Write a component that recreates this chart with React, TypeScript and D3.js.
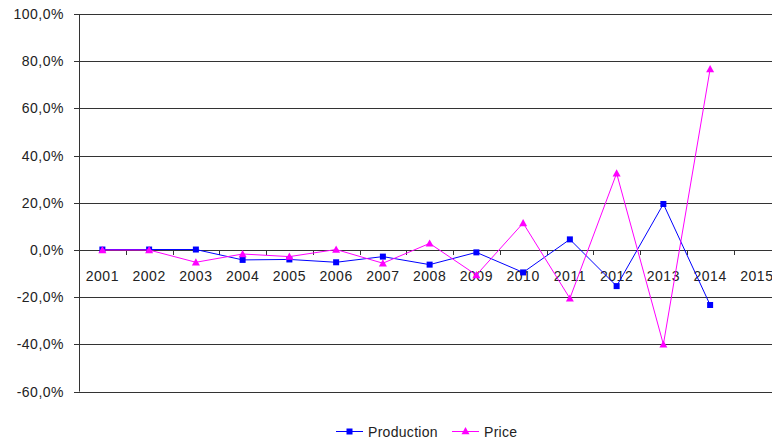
import React from "react";
import * as d3 from "d3";

const years = ["2001","2002","2003","2004","2005","2006","2007","2008","2009","2010","2011","2012","2013","2014","2015"];
const production = [0.2, 0.2, 0.2, -4.2, -4.0, -5.2, -2.8, -6.2, -1.0, -9.5, 4.5, -15.3, 19.5, -23.3];
const price = [0.0, 0.0, -5.2, -1.7, -2.8, 0.2, -5.6, 2.8, -10.6, 11.4, -20.5, 32.5, -40.0, 76.7];
const yTicks = [100, 80, 60, 40, 20, 0, -20, -40, -60];

const W = 772, H = 443;
const left = 79, top = 14, bottom = 391.6;
const step = 46.75;

export default function App() {
  const x = d3.scaleBand<string>().domain(years).range([left, left + step * years.length]).padding(0);
  const y = d3.scaleLinear().domain([-60, 100]).range([bottom, top]);
  const cx = (i: number) => (x(years[i]) as number) + x.bandwidth() / 2;
  const line = d3.line<number>().x((_, i) => cx(i)).y((d) => y(d));
  const fmt = (v: number) => v.toFixed(1).replace(".", ",") + "%";
  const font = "'Liberation Sans', Arial, sans-serif";
  const tri = (px: number, py: number, s = 4) => `M${px},${py - s}L${px + s},${py + s * 0.8}L${px - s},${py + s * 0.8}Z`;
  const xEnd = left + step * years.length;
  return (
    <svg width={W} height={H} style={{ position: "absolute", left: 0, top: 0, background: "#fff" }}>
      {yTicks.map((t) => (
        <g key={t}>
          <line x1={left - 5} x2={xEnd} y1={Math.round(y(t)) + 0.5} y2={Math.round(y(t)) + 0.5} stroke="#333" strokeWidth={1} />
          <text x={64} y={y(t) + 5} textAnchor="end" fontFamily={font} fontSize={14} letterSpacing={0.5} fill="#222">{fmt(t)}</text>
        </g>
      ))}
      <line x1={left + 0.5} x2={left + 0.5} y1={top} y2={bottom} stroke="#333" />
      {years.map((yr, i) => (
        <g key={yr}>
          <line x1={Math.round((x(yr) as number) + step) + 0.5} x2={Math.round((x(yr) as number) + step) + 0.5} y1={y(0)} y2={y(0) + 5} stroke="#333" />
          <text x={cx(i)} y={281} textAnchor="middle" fontFamily={font} fontSize={14} letterSpacing={0.5} fill="#222">{yr}</text>
        </g>
      ))}
      <path d={line(production) || ""} fill="none" stroke="#0000FF" strokeWidth={1} />
      {production.map((v, i) => (
        <rect key={"p" + i} x={cx(i) - 3} y={y(v) - 3} width={6} height={6} fill="#0000FF" />
      ))}
      <path d={line(price) || ""} fill="none" stroke="#FF00FF" strokeWidth={1} />
      {price.map((v, i) => (
        <path key={"q" + i} d={tri(cx(i), y(v))} fill="#FF00FF" />
      ))}
      <g>
        <line x1={336} x2={363} y1={431.5} y2={431.5} stroke="#0000FF" />
        <rect x={346.5} y={428.5} width={6} height={6} fill="#0000FF" />
        <text x={368} y={437} fontFamily={font} fontSize={14} letterSpacing={0.3} fill="#222">Production</text>
        <line x1={452} x2={479} y1={431.5} y2={431.5} stroke="#FF00FF" />
        <path d={tri(465.5, 431)} fill="#FF00FF" />
        <text x={484} y={437} fontFamily={font} fontSize={14} letterSpacing={0.3} fill="#222">Price</text>
      </g>
    </svg>
  );
}
